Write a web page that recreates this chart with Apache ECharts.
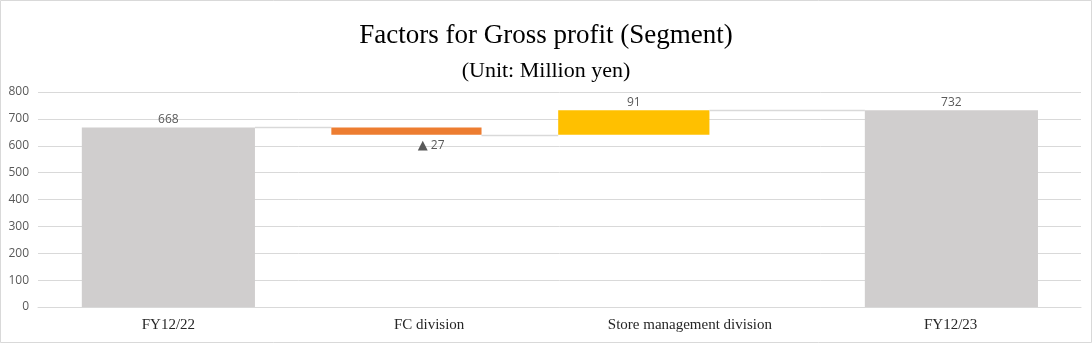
<!DOCTYPE html>
<html>
<head>
<meta charset="utf-8">
<script src="https://cdn.jsdelivr.net/npm/echarts@6/dist/echarts.min.js"></script>
<style>
html,body{margin:0;padding:0;background:#fff;}
#chart{width:1092px;height:343px;}
</style>
</head>
<body>
<div id="chart"></div>
<script>
// ---- data ----
const categories = ['FY12/22', 'FC division', 'Store management division', 'FY12/23'];
const values = [668, -27, 91, 732];           // totals and changes
const kinds = ['total', 'delta', 'delta', 'total'];
const yTicks = [0, 100, 200, 300, 400, 500, 600, 700, 800];
const titleText = 'Factors for Gross profit (Segment)';
const subtitleText = '(Unit: Million yen)';

// ---- layout (fractions of category band) ----
const barLeftFrac = [0.168, 0.125, -0.005, 0.171];
const barWidthFrac = [0.664, 0.576, 0.58, 0.664];
const labelAtCenter = [false, true, false, false];
const colors = ['#d0cece', '#ed7d31', '#ffc000', '#d0cece'];

// build waterfall bases
let running = 0;
const rows = values.map((v, i) => {
  let lo, hi, level;
  if (kinds[i] === 'total') { lo = 0; hi = v; running = v; level = v; }
  else {
    const next = running + v;
    lo = Math.min(running, next); hi = Math.max(running, next);
    running = next; level = next;
  }
  return [i, lo, hi, level, v];
});

const chart = echarts.init(document.getElementById('chart'), null, {renderer: 'canvas'});

function renderItem(params, api) {
  const i = api.value(0);
  const lo = api.value(1), hi = api.value(2), level = api.value(3), v = api.value(4);
  const band = api.size([1, 0])[0];
  const center = api.coord([i, 0])[0];
  const x0 = center - band / 2 + barLeftFrac[i] * band;
  const w = barWidthFrac[i] * band;
  const yTop = api.coord([i, hi])[1];
  const yBot = api.coord([i, lo])[1];
  const children = [{
    type: 'rect',
    shape: {x: x0, y: yTop, width: w, height: yBot - yTop},
    style: {fill: colors[i]}
  }];
  if (i < categories.length - 1) {
    const c2 = api.coord([i + 1, 0])[0];
    const nx = c2 - band / 2 + barLeftFrac[i + 1] * band;
    const ly = Math.round(api.coord([i, level])[1]) + 0.5;
    children.push({
      type: 'line',
      shape: {x1: x0 + w, y1: ly, x2: nx, y2: ly},
      style: {stroke: '#d9d9d9', lineWidth: 1.5}
    });
  }
  const neg = v < 0;
  children.push({
    type: 'text',
    style: {
      text: neg ? '{tri|\u25B2} ' + Math.abs(v) : String(v),
      rich: {tri: {fontSize: 13, fontFamily: '"DejaVu Sans", sans-serif', fill: '#595959', color: '#595959'}},
      x: labelAtCenter[i] ? center + 2 : x0 + w / 2,
      y: neg ? yBot + 4 : yTop - 2,
      align: 'center',
      verticalAlign: neg ? 'top' : 'bottom',
      fill: '#595959',
      fontSize: 12,
      fontFamily: '"Open Sans", sans-serif'
    }
  });
  return {type: 'group', children: children};
}

chart.setOption({
  animation: false,
  backgroundColor: '#fff',
  title: [
    {text: titleText, left: 'center', top: 17,
     textStyle: {fontFamily: '"Liberation Serif", serif', fontSize: 27, fontWeight: 'normal', color: '#000'}},
    {text: subtitleText, left: 'center', top: 55,
     textStyle: {fontFamily: '"Liberation Serif", serif', fontSize: 22, fontWeight: 'normal', color: '#000'}}
  ],
  graphic: [{
    type: 'rect', silent: true, z: 100,
    shape: {x: 0.5, y: 0.5, width: 1091, height: 342},
    style: {fill: 'none', stroke: '#d9d9d9', lineWidth: 1}
  }],
  grid: {left: 38, right: 11, top: 92, bottom: 36},
  xAxis: {
    type: 'category',
    data: categories,
    axisLine: {show: true, lineStyle: {color: '#d9d9d9', width: 1}},
    axisTick: {show: false},
    axisLabel: {fontFamily: '"Liberation Serif", serif', fontSize: 15, color: '#262626', margin: 11, interval: 0}
  },
  yAxis: {
    type: 'value', min: yTicks[0], max: yTicks[yTicks.length - 1], interval: yTicks[1] - yTicks[0],
    axisLine: {show: false}, axisTick: {show: false},
    splitLine: {lineStyle: {color: '#d9d9d9', width: 1}},
    axisLabel: {fontFamily: '"Open Sans", sans-serif', fontSize: 12, color: '#595959', margin: 9}
  },
  series: [{
    type: 'custom',
    renderItem: renderItem,
    encode: {x: 0, y: [1, 2]},
    data: rows,
    z: 3
  }]
});
</script>
</body>
</html>
